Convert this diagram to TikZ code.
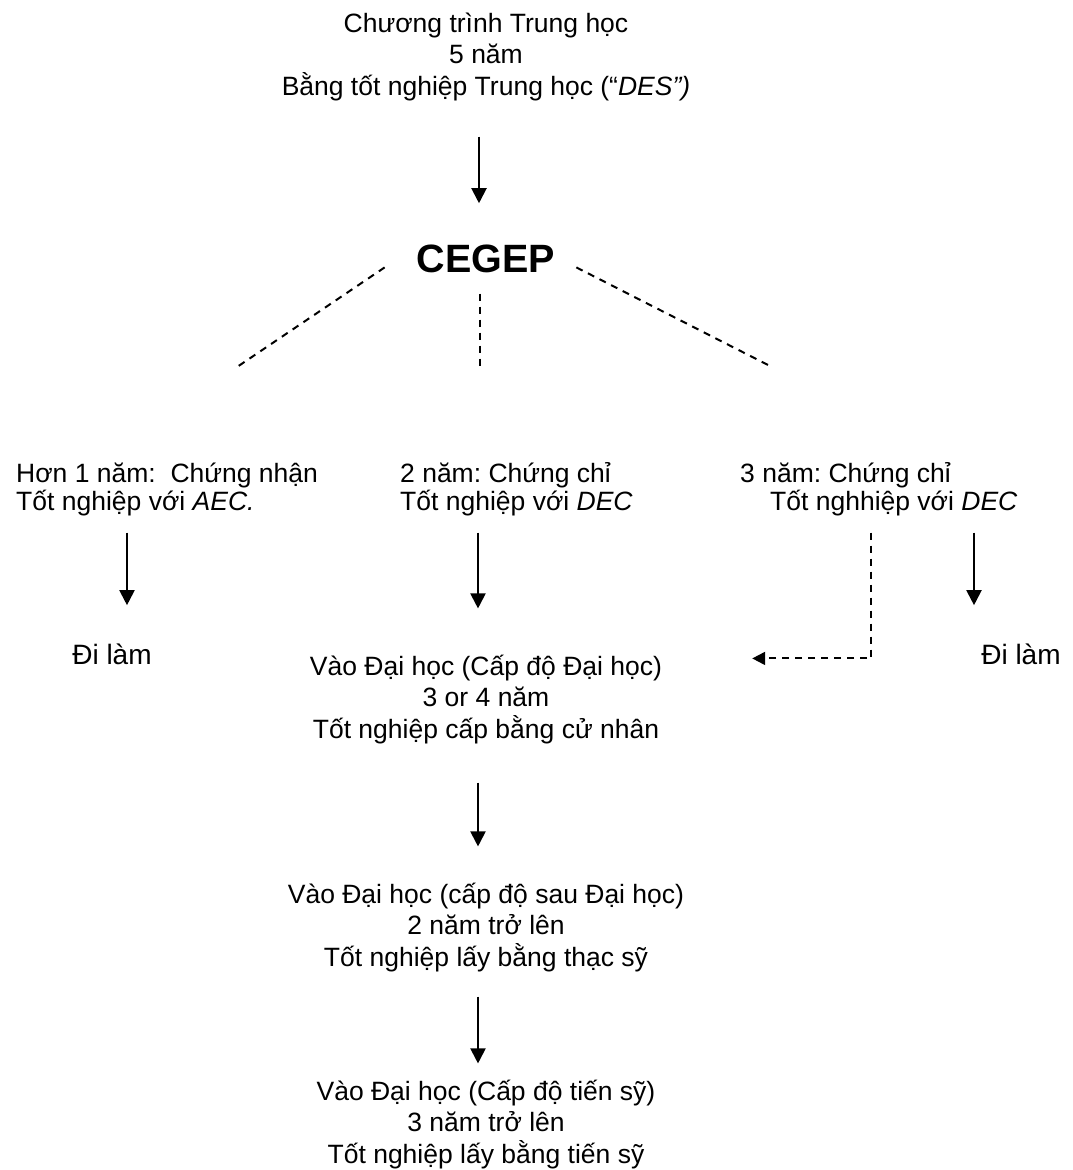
\documentclass[tikz,border=0pt]{standalone}
\usepackage{fontspec}
\setmainfont{Liberation Sans}
\frenchspacing
\usetikzlibrary{arrows.meta}
\tikzset{
  block/.style={align=center, inner sep=0pt, anchor=base, font=\fontsize{26.5}{31.5}\selectfont},
  choice/.style={align=left, inner sep=0pt, anchor=base west, font=\fontsize{26.5}{28}\selectfont},
  job/.style={inner sep=0pt, anchor=base, font=\fontsize{28}{30}\selectfont},
  arr/.style={-{Triangle[length=15pt,width=15pt]}, line width=2pt},
  dasharr/.style={-{Triangle[length=13pt,width=13pt]}, line width=2pt, dash pattern=on 7pt off 6pt},
  branch/.style={line width=2pt, dash pattern=on 7pt off 6pt}
}
\begin{document}
\begin{tikzpicture}[x=1pt,y=-1pt]
	\useasboundingbox (0,0) rectangle (1072,1170);
	
	\node[block] (hs) at (486,95) {Chương trình Trung học\\5 năm\\Bằng tốt nghiệp Trung học (“\textit{DES”)}};
	\node[inner sep=0pt, anchor=base, font=\fontsize{39.5}{40}\selectfont\bfseries] (cegep) at (486,272) {CEGEP};
	\draw[arr, shorten <=36pt, shorten >=41pt] ([xshift=-7pt]hs.south) -- ([xshift=-7pt]cegep.north);
	
	% ba nhanh
	\coordinate (lend) at (237,367);
	\coordinate (mend) at (480,367);
	\coordinate (rend) at (770,366);
	\draw[branch] ([shift={(-32pt,-9pt)}]cegep.west) -- (lend);
	\draw[branch] ([shift={(-6pt,-21pt)}]cegep.south) -- (mend);
	\draw[branch] ([shift={(21pt,-9pt)}]cegep.east) -- (rend);
	
	\node[choice] (aec) at (16,510) {Hơn 1 năm: \ Chứng nhận\\Tốt nghiệp với \textit{AEC.}};
	\node[choice] (dec2) at (400,510) {2 năm: Chứng chỉ\\Tốt nghiệp với \textit{DEC}};
	\node[choice] (dec3) at (740,510) {3 năm: Chứng chỉ\\\hspace*{30pt}Tốt nghhiệp với \textit{DEC}};
	
	\node[job] (job1) at (112,664) {Đi làm};
	\node[job] (job2) at (1021,664) {Đi làm};
	
	\node[block] (uni) at (486,738) {Vào Đại học (Cấp độ Đại học)\\3 or 4 năm\\Tốt nghiệp cấp bằng cử nhân};
	\node[block] (msc) at (486,966) {Vào Đại học (cấp độ sau Đại học)\\2 năm trở lên\\Tốt nghiệp lấy bằng thạc sỹ};
	\node[block] (phd) at (486,1163) {Vào Đại học (Cấp độ tiến sỹ)\\3 năm trở lên\\Tốt nghiệp lấy bằng tiến sỹ};
	
	\draw[arr, shorten <=17pt, shorten >=38pt] ([xshift=15pt]aec.south -| job1.north) -- ([xshift=15pt]job1.north);
	\draw[arr, shorten <=17pt, shorten >=46pt] ([xshift=-8pt]dec2.south -| uni.north) -- ([xshift=-8pt]uni.north);
	\draw[arr, shorten <=17pt, shorten >=38pt] ([xshift=-47pt]dec3.south -| job2.north) -- ([xshift=-47pt]job2.north);
	\draw[dasharr, shorten <=17pt] ([xshift=-7.5pt]dec3.south) |- ([shift={(90pt,-4pt)}]uni.north east);
	
	\draw[arr, shorten <=39pt, shorten >=36pt] ([xshift=-8pt]uni.south) -- ([xshift=-8pt]msc.north);
	\draw[arr, shorten <=25pt, shorten >=16pt] ([xshift=-8pt]msc.south) -- ([xshift=-8pt]phd.north);
\end{tikzpicture}
\end{document}
